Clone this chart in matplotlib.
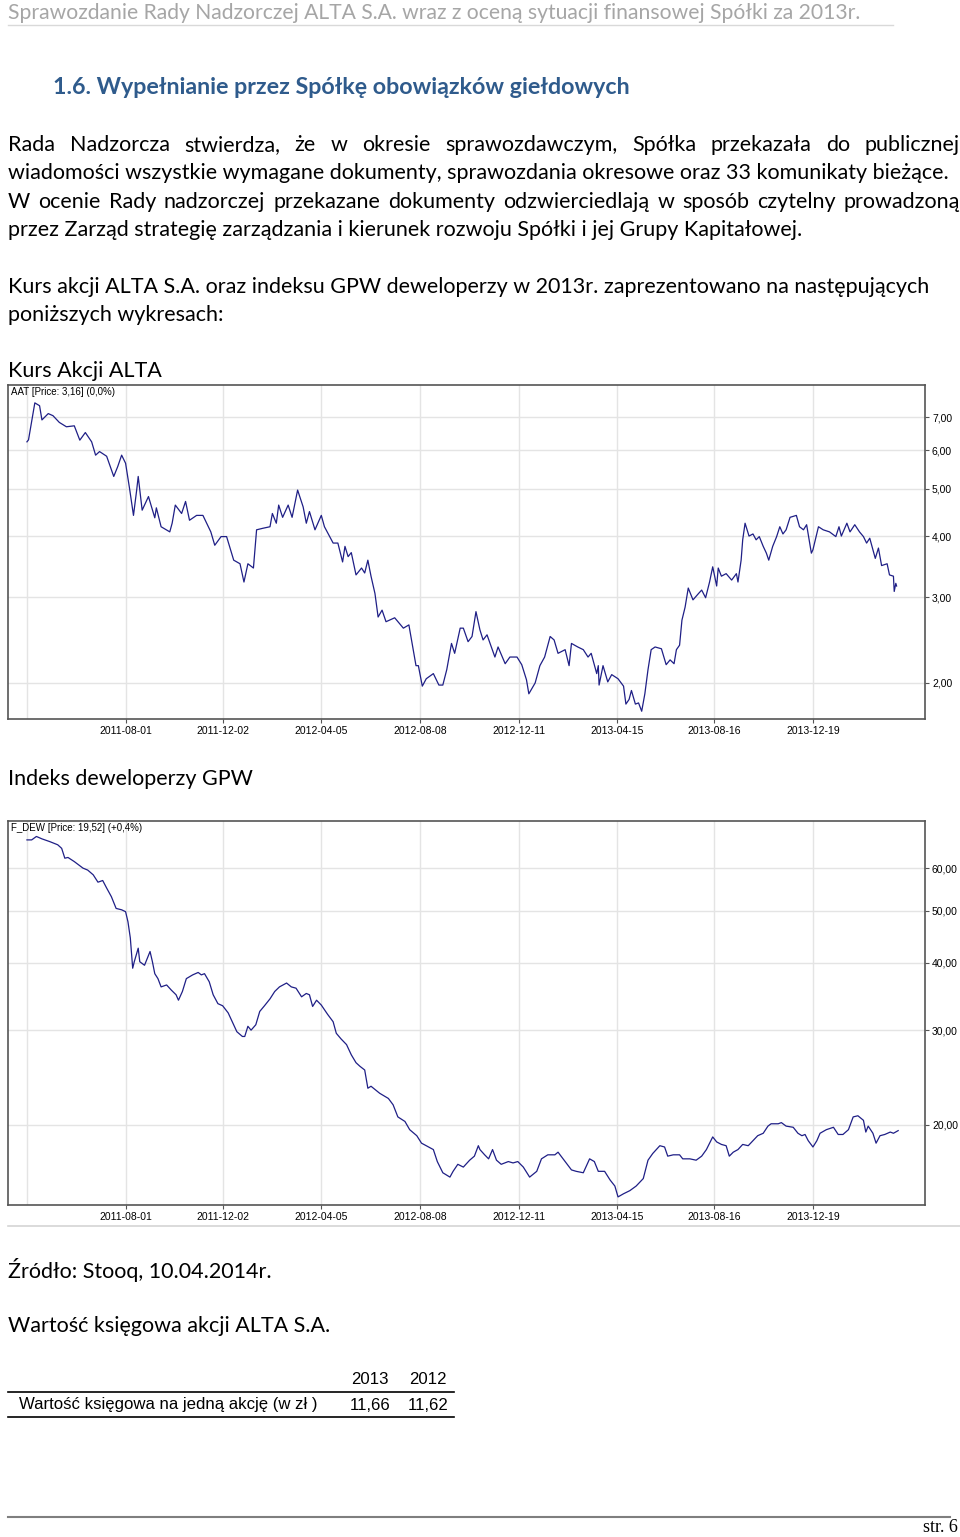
import numpy as np
import pandas as pd
import matplotlib
matplotlib.use('Agg')
import matplotlib.pyplot as plt
from matplotlib.lines import Line2D
from matplotlib.ticker import FixedLocator, FuncFormatter, NullLocator

# --- data (AAT and F_DEW, log scale) ---
alta_dates = [
    '2011-03-29', '2011-03-31', '2011-04-08', '2011-04-14', '2011-04-17', '2011-04-25', '2011-05-01', '2011-05-09', '2011-05-18', '2011-05-28',
    '2011-06-04', '2011-06-11', '2011-06-19', '2011-06-24', '2011-06-29', '2011-07-08', '2011-07-17', '2011-07-22', '2011-07-27', '2011-08-01',
    '2011-08-06', '2011-08-11', '2011-08-15', '2011-08-17', '2011-08-22', '2011-08-30', '2011-09-07', '2011-09-09', '2011-09-15', '2011-09-26',
    '2011-09-29', '2011-10-03', '2011-10-11', '2011-10-16', '2011-10-21', '2011-10-30', '2011-11-07', '2011-11-17', '2011-11-22', '2011-11-30',
    '2011-12-07', '2011-12-16', '2011-12-24', '2011-12-29', '2012-01-03', '2012-01-10', '2012-01-14', '2012-01-22', '2012-01-31', '2012-02-03',
    '2012-02-08', '2012-02-11', '2012-02-16', '2012-02-23', '2012-02-28', '2012-03-06', '2012-03-13', '2012-03-17', '2012-03-21', '2012-03-28',
    '2012-04-05', '2012-04-09', '2012-04-20', '2012-04-26', '2012-05-02', '2012-05-05', '2012-05-09', '2012-05-13', '2012-05-19', '2012-05-26',
    '2012-05-30', '2012-06-03', '2012-06-07', '2012-06-12', '2012-06-16', '2012-06-21', '2012-06-26', '2012-07-07', '2012-07-18', '2012-07-25',
    '2012-08-03', '2012-08-06', '2012-08-11', '2012-08-16', '2012-08-25', '2012-09-01', '2012-09-06', '2012-09-11', '2012-09-17', '2012-09-21',
    '2012-09-28', '2012-10-02', '2012-10-08', '2012-10-13', '2012-10-18', '2012-10-23', '2012-10-27', '2012-11-01', '2012-11-11', '2012-11-15',
    '2012-11-24', '2012-11-30', '2012-12-09', '2012-12-15', '2012-12-21', '2012-12-24', '2013-01-01', '2013-01-07', '2013-01-13', '2013-01-20',
    '2013-01-25', '2013-01-30', '2013-02-08', '2013-02-13', '2013-02-16', '2013-02-24', '2013-03-03', '2013-03-09', '2013-03-13', '2013-03-20',
    '2013-03-22', '2013-03-23', '2013-03-28', '2013-04-03', '2013-04-08', '2013-04-16', '2013-04-23', '2013-04-26', '2013-04-30', '2013-05-03',
    '2013-05-08', '2013-05-12', '2013-05-16', '2013-05-20', '2013-05-24', '2013-05-28', '2013-06-02', '2013-06-10', '2013-06-16', '2013-06-21',
    '2013-06-26', '2013-06-29', '2013-07-03', '2013-07-06', '2013-07-10', '2013-07-14', '2013-07-20', '2013-07-27', '2013-07-31', '2013-08-05',
    '2013-08-10', '2013-08-14', '2013-08-19', '2013-08-21', '2013-08-25', '2013-08-31', '2013-09-07', '2013-09-13', '2013-09-15', '2013-09-19',
    '2013-09-21', '2013-09-24', '2013-09-29', '2013-10-04', '2013-10-08', '2013-10-12', '2013-10-17', '2013-10-21', '2013-10-24', '2013-10-29',
    '2013-11-03', '2013-11-07', '2013-11-11', '2013-11-15', '2013-11-20', '2013-11-28', '2013-12-02', '2013-12-07', '2013-12-11', '2013-12-17',
    '2013-12-19', '2013-12-26', '2014-01-01', '2014-01-09', '2014-01-17', '2014-01-21', '2014-01-24', '2014-01-31', '2014-02-04', '2014-02-10',
    '2014-02-16', '2014-02-21', '2014-02-25', '2014-03-01', '2014-03-08', '2014-03-12', '2014-03-16', '2014-03-23', '2014-03-26', '2014-03-31',
    '2014-04-01', '2014-04-03', '2014-04-04']
alta_close = [
    6.24, 6.30, 7.50, 7.40, 6.92, 7.13, 7.06, 6.84, 6.70, 6.73,
    6.29, 6.52, 6.24, 5.86, 5.96, 5.83, 5.30, 5.55, 5.86, 5.64,
    5.01, 4.41, 4.96, 5.30, 4.52, 4.82, 4.36, 4.57, 4.18, 4.08,
    4.25, 4.63, 4.45, 4.71, 4.31, 4.41, 4.41, 4.08, 3.83, 3.99,
    3.99, 3.57, 3.51, 3.22, 3.51, 3.44, 4.12, 4.15, 4.18, 4.45,
    4.25, 4.63, 4.37, 4.63, 4.37, 4.97, 4.59, 4.25, 4.49, 4.12,
    4.41, 4.18, 3.87, 3.87, 3.54, 3.81, 3.63, 3.70, 3.33, 3.44,
    3.36, 3.57, 3.31, 3.05, 2.73, 2.82, 2.67, 2.72, 2.59, 2.63,
    2.17, 2.17, 1.97, 2.04, 2.09, 1.98, 1.98, 2.13, 2.41, 2.30,
    2.59, 2.59, 2.43, 2.49, 2.80, 2.57, 2.45, 2.51, 2.26, 2.37,
    2.19, 2.26, 2.26, 2.18, 2.03, 1.90, 2.00, 2.17, 2.26, 2.49,
    2.45, 2.30, 2.34, 2.17, 2.41, 2.37, 2.34, 2.26, 2.30, 2.09,
    2.17, 1.98, 2.17, 2.01, 2.08, 2.04, 1.97, 1.81, 1.85, 1.93,
    1.81, 1.82, 1.75, 1.90, 2.13, 2.34, 2.37, 2.35, 2.18, 2.23,
    2.19, 2.34, 2.39, 2.69, 2.86, 3.13, 2.96, 3.05, 3.10, 2.99,
    3.22, 3.46, 3.16, 3.44, 3.31, 3.35, 3.25, 3.35, 3.22, 3.57,
    3.93, 4.25, 4.00, 4.04, 3.93, 3.99, 3.81, 3.69, 3.57, 3.81,
    3.99, 4.18, 4.04, 4.12, 4.37, 4.41, 4.18, 4.12, 4.22, 3.69,
    3.75, 4.18, 4.12, 4.08, 3.99, 4.18, 4.00, 4.25, 4.08, 4.22,
    4.08, 3.99, 3.87, 3.96, 3.60, 3.78, 3.48, 3.51, 3.33, 3.31,
    3.08, 3.20, 3.16]

dew_dates = [
    '2011-03-29', '2011-04-04', '2011-04-10', '2011-04-17', '2011-04-27', '2011-05-07', '2011-05-12', '2011-05-16', '2011-05-20', '2011-05-28',
    '2011-06-08', '2011-06-14', '2011-06-21', '2011-06-27', '2011-07-03', '2011-07-08', '2011-07-14', '2011-07-20', '2011-07-27', '2011-08-01',
    '2011-08-04', '2011-08-07', '2011-08-10', '2011-08-12', '2011-08-17', '2011-08-19', '2011-08-25', '2011-09-01', '2011-09-04', '2011-09-07',
    '2011-09-11', '2011-09-15', '2011-09-22', '2011-09-28', '2011-10-04', '2011-10-07', '2011-10-12', '2011-10-17', '2011-10-25', '2011-11-01',
    '2011-11-05', '2011-11-09', '2011-11-15', '2011-11-20', '2011-11-26', '2011-12-02', '2011-12-09', '2011-12-15', '2011-12-20', '2011-12-27',
    '2011-12-30', '2012-01-03', '2012-01-07', '2012-01-13', '2012-01-18', '2012-01-24', '2012-01-31', '2012-02-06', '2012-02-12', '2012-02-21',
    '2012-02-27', '2012-03-04', '2012-03-11', '2012-03-17', '2012-03-21', '2012-03-25', '2012-03-30', '2012-04-05', '2012-04-13', '2012-04-20',
    '2012-04-24', '2012-04-30', '2012-05-07', '2012-05-13', '2012-05-19', '2012-05-24', '2012-05-30', '2012-06-03', '2012-06-07', '2012-06-18',
    '2012-06-29', '2012-07-05', '2012-07-11', '2012-07-20', '2012-07-26', '2012-08-04', '2012-08-10', '2012-08-16', '2012-08-25', '2012-08-30',
    '2012-09-06', '2012-09-15', '2012-09-19', '2012-09-25', '2012-10-02', '2012-10-10', '2012-10-16', '2012-10-21', '2012-10-23', '2012-10-29',
    '2012-11-03', '2012-11-08', '2012-11-13', '2012-11-19', '2012-11-28', '2012-12-04', '2012-12-10', '2012-12-17', '2012-12-25', '2013-01-03',
    '2013-01-09', '2013-01-17', '2013-01-26', '2013-01-30', '2013-02-08', '2013-02-16', '2013-02-22', '2013-03-03', '2013-03-11', '2013-03-17',
    '2013-03-22', '2013-03-30', '2013-04-06', '2013-04-12', '2013-04-16', '2013-04-23', '2013-05-01', '2013-05-09', '2013-05-18', '2013-05-24',
    '2013-05-30', '2013-06-08', '2013-06-14', '2013-06-18', '2013-06-25', '2013-07-03', '2013-07-07', '2013-07-16', '2013-07-24', '2013-07-31',
    '2013-08-06', '2013-08-14', '2013-08-19', '2013-08-25', '2013-08-31', '2013-09-04', '2013-09-09', '2013-09-15', '2013-09-21', '2013-09-28',
    '2013-10-04', '2013-10-10', '2013-10-17', '2013-10-23', '2013-10-27', '2013-11-05', '2013-11-09', '2013-11-15', '2013-11-24', '2013-11-30',
    '2013-12-05', '2013-12-09', '2013-12-13', '2013-12-19', '2013-12-24', '2013-12-28', '2014-01-05', '2014-01-14', '2014-01-20', '2014-01-26',
    '2014-02-02', '2014-02-08', '2014-02-14', '2014-02-21', '2014-02-24', '2014-02-27', '2014-03-05', '2014-03-09', '2014-03-14', '2014-03-20',
    '2014-03-27', '2014-03-31', '2014-04-06']
dew_close = [
    67.7, 67.7, 68.7, 68.0, 67.2, 66.3, 65.3, 62.6, 62.8, 61.7,
    60.0, 59.5, 58.3, 56.5, 56.9, 55.1, 53.1, 50.5, 50.2, 49.8,
    47.7, 44.5, 39.1, 40.2, 42.6, 40.2, 39.6, 42.0, 40.2, 38.2,
    37.4, 36.1, 36.4, 35.6, 34.9, 34.1, 35.4, 37.4, 38.0, 38.4,
    38.0, 38.2, 36.9, 34.9, 33.6, 33.3, 32.3, 30.9, 29.8, 29.2,
    29.2, 30.5, 30.0, 30.7, 32.5, 33.3, 34.3, 35.4, 36.1, 36.7,
    36.1, 35.9, 34.6, 35.1, 34.9, 33.2, 34.1, 33.4, 32.1, 31.1,
    29.6, 28.9, 28.2, 27.0, 26.1, 25.7, 25.3, 23.4, 23.6, 22.9,
    22.4, 21.8, 20.7, 20.3, 19.6, 19.1, 18.5, 18.3, 18.0, 17.1,
    16.3, 16.0, 16.4, 16.9, 16.7, 17.2, 17.5, 18.3, 18.0, 17.6,
    17.3, 18.0, 17.2, 16.9, 17.1, 17.0, 17.1, 16.7, 16.0, 16.4,
    17.3, 17.6, 17.6, 17.8, 17.1, 16.5, 16.4, 16.3, 17.3, 17.1,
    16.4, 16.4, 15.8, 15.4, 14.7, 14.9, 15.1, 15.4, 15.9, 17.2,
    17.7, 18.3, 18.2, 17.5, 17.6, 17.6, 17.3, 17.3, 17.2, 17.5,
    18.0, 19.0, 18.6, 18.4, 18.3, 17.5, 17.8, 18.0, 18.4, 18.3,
    18.7, 19.1, 19.3, 19.9, 20.1, 20.1, 20.2, 19.9, 19.8, 19.3,
    19.1, 19.2, 18.7, 18.2, 18.7, 19.3, 19.6, 19.8, 19.2, 19.2,
    19.6, 20.7, 20.8, 20.4, 19.4, 19.9, 19.3, 18.5, 19.1, 19.2,
    19.4, 19.3, 19.52]

tick_dates = ['2011-08-01', '2011-12-02', '2012-04-05', '2012-08-08',
              '2012-12-11', '2013-04-15', '2013-08-16', '2013-12-19']
alta_yticks = [2, 3, 4, 5, 6, 7]
dew_yticks = [20, 30, 40, 50, 60]

book_years = ['2013', '2012']
book_values = ['11,66', '11,62']

W, H = 960, 1537
BODY = ['Lato', 'DejaVu Sans']
NARROW = ['Liberation Sans Narrow', 'Liberation Sans', 'DejaVu Sans']
ARIAL = ['Liberation Sans', 'DejaVu Sans']

fig = plt.figure(figsize=(W / 100, H / 100), dpi=100)
fig.patch.set_facecolor('white')
renderer = fig.canvas.get_renderer()


def fx(x):
    return x / W


def fy(y):
    return 1 - y / H


def put(x, y, s, size, family=BODY, **kw):
    return fig.text(fx(x), fy(y), s, fontsize=size, family=family, va='center', **kw)


def fit_size(s, width, family=BODY, weight='normal'):
    t = fig.text(0, 0, s, fontsize=12, family=family, weight=weight)
    w = t.get_window_extent(renderer).width
    t.remove()
    return 12 * width / w


def justify(y, s, x0, x1, size):
    words = s.split()
    ts = [put(0, y, w, size) for w in words]
    ws = [t.get_window_extent(renderer).width for t in ts]
    gap = (x1 - x0 - sum(ws)) / (len(words) - 1)
    x = x0
    for t, w in zip(ts, ws):
        t.set_x(fx(x))
        x += w + gap


def hline(y, x0, x1, color, lw):
    fig.add_artist(Line2D([fx(x0), fx(x1)], [fy(y), fy(y)], color=color, lw=lw,
                          transform=fig.transFigure))


# --- page text ---
head = 'Sprawozdanie Rady Nadzorczej ALTA S.A. wraz z oceną sytuacji finansowej Spółki za 2013r.'
put(8, 13, head, fit_size(head, 849), color='#a6a6a6')
hline(25, 8, 893, '#d9d9d9', 1)

title = '1.6. Wypełnianie przez Spółkę obowiązków giełdowych'
put(53, 88, title, fit_size(title, 574, weight='bold'), weight='bold', color='#2f5b8c')

line2 = 'wiadomości wszystkie wymagane dokumenty, sprawozdania okresowe oraz 33 komunikaty bieżące.'
fs = fit_size(line2, 935)
justify(145, 'Rada Nadzorcza stwierdza, że w okresie sprawozdawczym, Spółka przekazała do publicznej', 8, 960, fs)
put(8, 173, line2, fs)
justify(202, 'W ocenie Rady nadzorczej przekazane dokumenty odzwierciedlają w sposób czytelny prowadzoną', 8, 960, fs)
put(8, 230, 'przez Zarząd strategię zarządzania i kierunek rozwoju Spółki i jej Grupy Kapitałowej.', fs)
put(8, 287, 'Kurs akcji ALTA S.A. oraz indeksu GPW deweloperzy w 2013r. zaprezentowano na następujących', fs)
put(8, 315, 'poniższych wykresach:', fs)
put(8, 371, 'Kurs Akcji ALTA', fs)
put(8, 779, 'Indeks deweloperzy GPW', fs)


# --- charts ---
def draw_chart(top, bottom, dates, values, yticks, ylim, label):
    ax = fig.add_axes([fx(8), fy(bottom), fx(925) - fx(8), fy(top) - fy(bottom)])
    ax.set_facecolor('white')
    ax.plot(pd.to_datetime(dates), values, color='#1f1f86', lw=0.9, zorder=3)
    ax.set_yscale('log')
    ax.set_ylim(ylim)
    ax.set_xlim(pd.Timestamp('2011-03-05'), pd.Timestamp('2014-05-10'))
    ax.yaxis.set_major_locator(FixedLocator(yticks))
    ax.yaxis.set_minor_locator(NullLocator())
    ax.yaxis.set_major_formatter(FuncFormatter(lambda v, p: f'{v:.2f}'.replace('.', ',')))
    ax.yaxis.tick_right()
    ax.set_xticks(pd.to_datetime(tick_dates))
    ax.set_xticklabels(tick_dates)
    ax.xaxis.set_minor_locator(NullLocator())
    ax.grid(True, color='#e4e4e4', lw=1, zorder=0)
    ax.axvline(pd.Timestamp(dates[0]), color='#e4e4e4', lw=1, zorder=0)
    for s in ax.spines.values():
        s.set_color('#555555')
        s.set_linewidth(1.2)
    ax.tick_params(length=3, width=0.8, color='#555555', labelsize=7.5, pad=2)
    for lab in ax.get_xticklabels() + ax.get_yticklabels():
        lab.set_family(NARROW)
    ax.text(0.003, 0.995, label, transform=ax.transAxes, va='top', ha='left',
            fontsize=7, family=NARROW)
    return ax


draw_chart(385, 719, alta_dates, alta_close, alta_yticks, (1.687, 8.16),
           'AAT [Price: 3,16] (0,0%)')
draw_chart(821, 1205, dew_dates, dew_close, dew_yticks, (14.2, 73.4),
           'F_DEW [Price: 19,52] (+0,4%)')

hline(1226, 8, 960, '#d4d4d4', 1.2)
put(8, 1270, 'Źródło: Stooq, 10.04.2014r.', fs)
put(8, 1326, 'Wartość księgowa akcji ALTA S.A.', fs)

# --- small table ---
row = 'Wartość księgowa na jedną akcję (w zł )'
ts = fit_size(row, 298, family=ARIAL)
for yr, val, cx in zip(book_years, book_values, [370, 428]):
    put(cx, 1380, yr, ts, family=ARIAL, ha='center')
    put(cx, 1405, val, ts, family=ARIAL, ha='center')
put(19, 1405, row, ts, family=ARIAL)
hline(1392, 8, 454, '#000000', 1.2)
hline(1417, 8, 454, '#000000', 1.2)

# --- footer ---
hline(1517, 8, 950, '#7f7f7f', 1.5)
put(958, 1528, 'str. 6', 13, family=['Liberation Serif', 'DejaVu Serif'], ha='right')

fig.savefig('out.png', dpi=100, facecolor='white')
